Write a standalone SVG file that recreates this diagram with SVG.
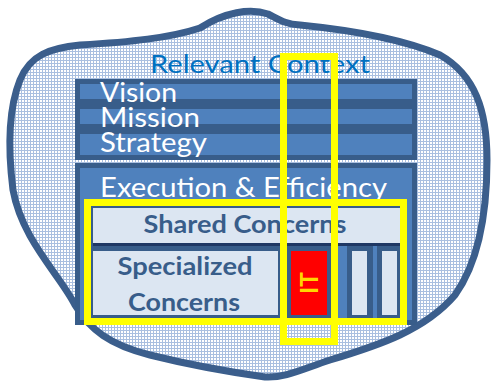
<svg xmlns="http://www.w3.org/2000/svg" width="491" height="383" viewBox="0 0 491 383">
<defs>
<pattern id="grid" width="3" height="3" patternUnits="userSpaceOnUse">
<rect width="3" height="3" fill="#FFFFFF"/>
<rect x="0" y="0" width="3" height="1" fill="#A9BFE0"/>
<rect x="0" y="0" width="1" height="3" fill="#A9BFE0"/>
</pattern>
<style>
.dark{fill:#385D8A}
.mid{fill:#4F81BD}
.light{fill:#DCE6F2}
.navy{fill:#1F3864}
.w{font-family:Lato,"Open Sans","Liberation Sans",sans-serif;fill:#FFFFFF;font-size:27px}
.b{font-family:Lato,"Open Sans","Liberation Sans",sans-serif;fill:#385D8A;font-size:24px;font-weight:bold}
.hl{fill:none;stroke:#FFFF00;stroke-width:7}
</style>
</defs>
<g id="cloud">
<path d="M 13,190 C 8,150 8,110 20,80 C 30,55 50,48 80,45 C 130,42 170,38 200,28 C 225,12 250,8 268,14 C 280,20 285,24 300,25 C 350,30 400,38 440,55 C 475,75 487,110 487,160 C 487,210 480,260 455,295 C 425,330 380,345 330,360 C 300,370 285,378 265,377 C 230,372 190,365 150,355 C 110,345 90,330 75,305 C 60,275 22,240 13,190 Z" fill="url(#grid)" stroke="#3B5E8C" stroke-width="7"/>
<text x="150" y="73" font-family="Lato,'Open Sans','Liberation Sans',sans-serif" font-size="25" fill="#0070C0" textLength="220" lengthAdjust="spacingAndGlyphs">Relevant Context</text>
</g>
<g id="strategic">
<rect class="dark" x="75" y="79" width="342" height="81"/>
<rect class="mid" x="80" y="84" width="332" height="15"/>
<rect class="mid" x="80" y="109" width="332" height="15"/>
<rect class="mid" x="80" y="134" width="332" height="21"/>
<text class="w" x="100" y="102" textLength="77" lengthAdjust="spacingAndGlyphs">Vision</text>
<text class="w" x="100" y="127" textLength="100" lengthAdjust="spacingAndGlyphs">Mission</text>
<text class="w" x="100" y="152" textLength="107" lengthAdjust="spacingAndGlyphs">Strategy</text>
</g>
<g id="execution">
<rect class="dark" x="75" y="163" width="342" height="162"/>
<rect class="mid" x="80" y="168" width="332" height="152"/>
<text class="w" x="100" y="197" textLength="287" lengthAdjust="spacingAndGlyphs">Execution &amp; Efficiency</text>
<rect class="dark" x="91" y="206" width="311" height="112"/>
</g>
<g id="shared">
<rect class="light" x="93" y="208" width="307" height="35"/>
<rect class="navy" x="93" y="243" width="307" height="3"/>
<text class="b" x="245" y="233" text-anchor="middle" textLength="203" lengthAdjust="spacingAndGlyphs">Shared Concerns</text>
</g>
<g id="specialized">
<rect class="light" x="93" y="251" width="185" height="64"/>
<text class="b" x="185" y="275" text-anchor="middle" textLength="135" lengthAdjust="spacingAndGlyphs">Specialized</text>
<text class="b" x="184" y="311" text-anchor="middle" textLength="112" lengthAdjust="spacingAndGlyphs">Concerns</text>
</g>
<g id="it">
<rect x="291" y="251" width="36" height="64" fill="#FF0000"/>
<text transform="translate(318,283) rotate(-90)" x="0" y="0" text-anchor="middle" font-family="Lato,'Open Sans','Liberation Sans',sans-serif" font-size="25" font-weight="bold" fill="#FFD700" textLength="22" lengthAdjust="spacingAndGlyphs">IT</text>
</g>
<g id="columns">
<rect class="mid" x="333" y="246" width="14" height="72"/>
<rect class="light" x="352" y="251" width="15" height="64"/>
<rect class="mid" x="373" y="246" width="4" height="72"/>
<rect class="light" x="382" y="251" width="15" height="64"/>
</g>
<g id="highlights">
<rect class="hl" x="87.5" y="202.5" width="316" height="119"/>
<rect class="hl" x="283.5" y="56.5" width="51" height="285"/>
</g>
</svg>
